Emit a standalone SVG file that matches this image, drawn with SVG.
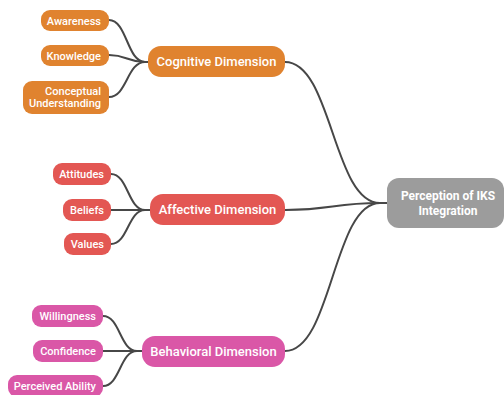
<svg xmlns="http://www.w3.org/2000/svg" width="504" height="395" viewBox="0 0 504 395">
<style>
.c{fill:none;stroke:#474747;stroke-width:2;stroke-linecap:round}
.t{fill:#fff;font-family:Roboto,"Liberation Sans",sans-serif;font-weight:500}
.s{font-size:11px;text-anchor:end}
.m{font-size:13px;text-anchor:middle}
.b{font-size:12px;text-anchor:middle;font-weight:700}
.o{fill:#E0832F}
.r{fill:#E35753}
.p{fill:#DA57A7}
.g{fill:#9C9C9C}
</style>
<rect width="504" height="395" fill="#fff"/>
<g id="connectors">
<path class="c" d="M109,20 C127,20 127,62 145,62 L148,62"/>
<path class="c" d="M109,55 C127,55 127,62 145,62"/>
<path class="c" d="M109,97 C127,97 127,62 145,62"/>
<path class="c" d="M111,174 C128,174 128,210 145,210 L150,210"/>
<path class="c" d="M111,210 L145,210"/>
<path class="c" d="M111,244 C128,244 128,210 145,210"/>
<path class="c" d="M103,316 C120,316 120,351 137,351 L142,351"/>
<path class="c" d="M103,351 L137,351"/>
<path class="c" d="M103,386 C120,386 120,351 137,351"/>
<path class="c" d="M285,62 C332,62 333,203 380,203 L387,203"/>
<path class="c" d="M285,210 C332,210 333,203 380,203"/>
<path class="c" d="M285,351 C332,351 333,203 380,203"/>
</g>
<g id="awareness"><rect class="o" x="41" y="10" width="68" height="21" rx="9"/><text class="t s" x="101" y="24.5">Awareness</text></g>
<g id="knowledge"><rect class="o" x="41" y="45" width="68" height="21" rx="9"/><text class="t s" x="101" y="59.5">Knowledge</text></g>
<g id="conceptual"><rect class="o" x="23" y="81" width="86" height="33" rx="9"/><text class="t s" x="101" y="95">Conceptual</text><text class="t s" x="101" y="107">Understanding</text></g>
<g id="cognitive"><rect class="o" x="148" y="46" width="137" height="31" rx="13"/><text class="t m" x="216.5" y="66">Cognitive Dimension</text></g>
<g id="attitudes"><rect class="r" x="53" y="163" width="58" height="22" rx="9"/><text class="t s" x="104" y="178">Attitudes</text></g>
<g id="beliefs"><rect class="r" x="63" y="199" width="48" height="22" rx="9"/><text class="t s" x="104" y="214">Beliefs</text></g>
<g id="values"><rect class="r" x="64" y="233" width="47" height="22" rx="9"/><text class="t s" x="104" y="248">Values</text></g>
<g id="affective"><rect class="r" x="150" y="194" width="135" height="31" rx="13"/><text class="t m" x="217.5" y="214">Affective Dimension</text></g>
<g id="willingness"><rect class="p" x="32" y="305" width="71" height="22" rx="9"/><text class="t s" x="96" y="320">Willingness</text></g>
<g id="confidence"><rect class="p" x="33" y="340" width="70" height="22" rx="9"/><text class="t s" x="96" y="355">Confidence</text></g>
<g id="perceived"><rect class="p" x="8" y="375" width="95" height="22" rx="9"/><text class="t s" x="96" y="390">Perceived Ability</text></g>
<g id="behavioral"><rect class="p" x="142" y="336" width="143" height="31" rx="13"/><text class="t m" x="213.5" y="356">Behavioral Dimension</text></g>
<g id="perception"><rect class="g" x="387" y="178" width="117" height="50" rx="12"/><text class="t b" x="448" y="200">Perception of IKS</text><text class="t b" x="448" y="215">Integration</text></g>
</svg>
